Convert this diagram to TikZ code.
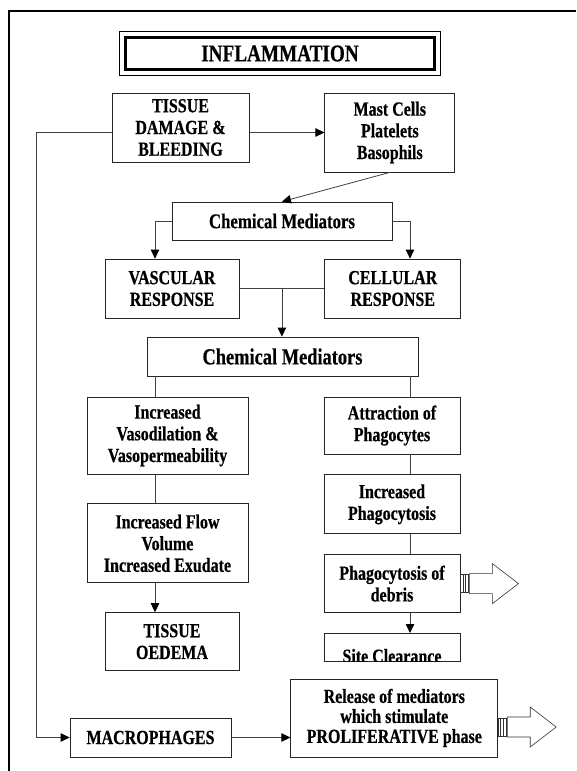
\documentclass[tikz,border=0pt]{standalone}
\usepackage{fontspec}
\setmainfont{Liberation Serif}[FakeStretch=0.8, BoldFeatures={FakeBold=0.5}]
\usetikzlibrary{arrows.meta,positioning,calc}

\begin{document}
\begin{tikzpicture}[
    x=1pt, y=-1pt,
    node distance=20pt and 75pt,
    box/.style={
      rectangle, draw=black!85, line width=0.8pt, fill=white,
      inner sep=0pt, align=center,
      font=\bfseries\fontsize{20}{21.7}\selectfont
    },
    link/.style={draw=black!75, line width=0.8pt},
    arrow/.style={link, -{Triangle[length=9pt, width=8.5pt, color=black]}},
    hollow/.style={draw=black!80, line width=0.6pt, fill=white}
  ]
  \useasboundingbox (0,0) rectangle (576,771);
  % outer frame
  \draw[line width=1.5pt] (9,771) -- (9,11) -- (576,11);
  % title
  \node[box, draw=black, line width=3pt, minimum width=309pt, minimum height=32pt,
        font=\bfseries\fontsize{24}{26}\selectfont] (title) at (280,53.5) {INFLAMMATION};
  \draw[line width=0.8pt] ($(title.north west)+(-4.5,-4.5)$) rectangle ($(title.south east)+(4.5,4.5)$);
  % top row
  \node[box, minimum width=137pt, minimum height=69pt] (tdb) at (180.5,127.5) {TISSUE\\DAMAGE \&\\BLEEDING};
  \node[box, minimum width=130pt, minimum height=79pt, right=75pt of tdb.north east, anchor=north west] (mast) {Mast Cells\\Platelets\\Basophils};
  \node[box, minimum width=220pt, minimum height=38pt,
        font=\bfseries\fontsize{21}{23}\selectfont] (cm1) at (282,221) {Chemical Mediators};
  % responses
  \node[box, minimum width=134pt, minimum height=59pt] (vasc) at (172,288.5) {VASCULAR\\RESPONSE};
  \node[box, minimum width=136pt, minimum height=59pt, right=85pt of vasc] (cell) {CELLULAR\\RESPONSE};
  \node[box, minimum width=271pt, minimum height=39pt,
        font=\bfseries\fontsize{23}{25}\selectfont] (cm2) at (282.5,356.5) {Chemical Mediators};
  % vascular column
  \node[box, minimum width=161pt, minimum height=77pt] (vaso) at (167.5,435.5) {Increased\\Vasodilation \&\\Vasopermeability};
  \node[box, minimum width=161pt, minimum height=79pt, below=29pt of vaso] (flow) {Increased Flow\\Volume\\Increased Exudate};
  \node[box, minimum width=134pt, minimum height=58pt, below=29pt of flow, xshift=4.5pt] (oed) {TISSUE\\OEDEMA};
  % cellular column
  \node[box, minimum width=136pt, minimum height=57pt] (attr) at (392,425.5) {Attraction of\\Phagocytes};
  \node[box, minimum width=136pt, minimum height=59pt, below=of attr] (incp) {Increased\\Phagocytosis};
  \node[box, minimum width=136pt, minimum height=58pt, below=of incp] (debr) {Phagocytosis of\\debris};
  \node[box, minimum width=136pt, minimum height=28pt, below=of debr] (site) {};
  \begin{scope}
    \clip ($(site.north west)+(0.4,0.4)$) rectangle ($(site.south east)+(-0.4,-0.4)$);
    \node[font=\bfseries\fontsize{20}{21.7}\selectfont, anchor=base, inner sep=0pt] (sitetext) at ($(site.south)+(0,1)$) {Site Clearance};
  \end{scope}
  % bottom row
  \node[box, minimum width=161pt, minimum height=39pt] (macro) at (150.5,737.5) {MACROPHAGES};
  \node[box, minimum width=207pt, minimum height=78pt, right=59pt of macro.south east, anchor=south west,
        font=\bfseries\fontsize{20}{20}\selectfont] (rel) {Release of mediators\\which stimulate\\PROLIFERATIVE phase};
  % branch columns
  \coordinate (lcol) at (155,0);
  \coordinate (rcol) at (410,0);
  \coordinate (mid) at ($(vasc.east)!0.5!(cell.west)$);
  % Arrows
  \draw[arrow] (tdb.east |- mast.west) -- (mast.west);
  \draw[arrow] (mast.south) -- (cm1.north);
  \draw[arrow] (cm1.west) -| (lcol |- vasc.north);
  \draw[arrow] (cm1.east) -| (rcol |- cell.north);
  \draw[link] (vasc.east) -- (cell.west);
  \draw[arrow] (mid) -- (mid |- cm2.north);
  \draw[link] (lcol |- cm2.south) -- (lcol |- vaso.north);
  \draw[link] (rcol |- cm2.south) -- (rcol |- attr.north);
  \draw[link] (lcol |- vaso.south) -- (lcol |- flow.north);
  \draw[arrow] (lcol |- flow.south) -- (lcol |- oed.north);
  \draw[link] (rcol |- attr.south) -- (rcol |- incp.north);
  \draw[link] (rcol |- incp.south) -- (rcol |- debr.north);
  \draw[arrow] (rcol |- debr.south) -- (rcol |- site.north);
  \draw[arrow] (tdb.west |- mast.west) -- ++(-75,0) |- (macro.west);
  \draw[arrow] (macro.east) -- (macro.east -| rel.west);
  % hollow arrows
  \coordinate (h1) at (debr.east);
  \coordinate (h2) at ($(rel.east)+(0,9)$);
  \foreach \h in {h1,h2} {
    \draw[hollow] ($(\h)+(9,-10)$) -- ++(23,0) -- ++(0,-10) -- ++(26,20) -- ++(-26,20)
      -- ++(0,-10) -- ++(-23,0) -- cycle;
    \draw[hollow] ($(\h)+(0,-9)$) rectangle ($(\h)+(8,9)$);
    \foreach \d in {2.5,5} \draw[hollow] ($(\h)+(\d,-9)$) -- ++(0,18);
  }
\end{tikzpicture}
\end{document}
